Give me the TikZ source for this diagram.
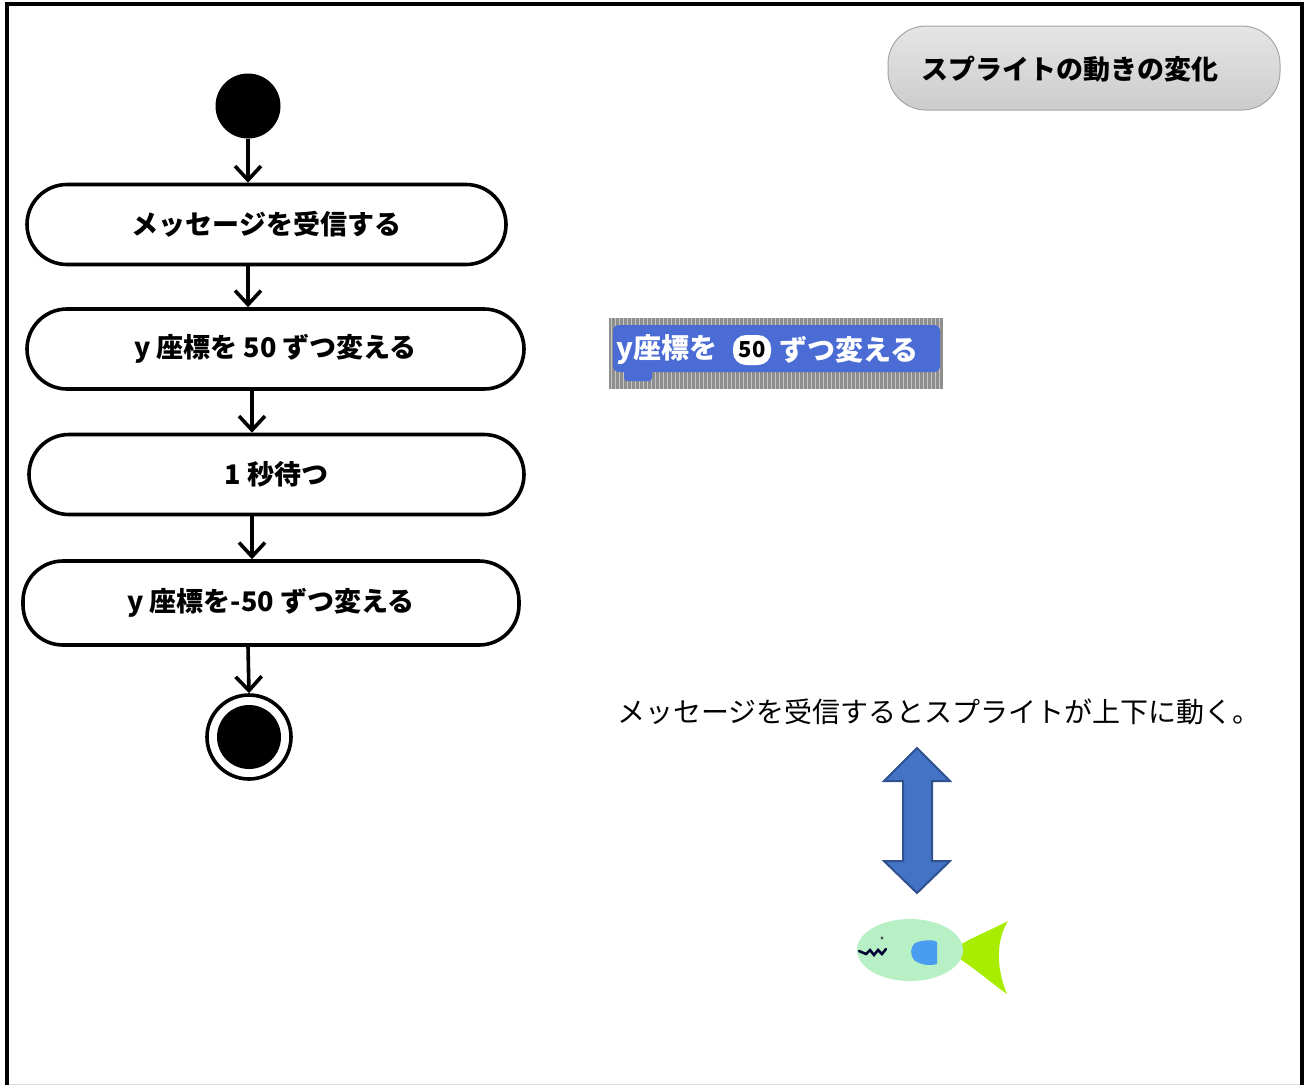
\documentclass[tikz,border=0pt]{standalone}
\usepackage{fontspec}
\newfontfamily\jp{Noto Sans CJK JP}
\usetikzlibrary{arrows.meta,shapes.geometric}
\definecolor{scratchblue}{HTML}{4A6CD4}
\definecolor{scratchbg}{HTML}{8E8E8E}
\definecolor{arrowblue}{HTML}{4472C4}
\definecolor{arrowedge}{HTML}{2F528F}
\definecolor{fishbody}{HTML}{B6F0C4}
\definecolor{fishtail}{HTML}{A8EC00}
\definecolor{fisheye}{HTML}{4A9CF0}
\tikzset{
  actbox/.style={draw=black, line width=3.6pt, fill=white, rounded corners=40pt,
    minimum height=80pt, inner sep=0pt, font=\jp\bfseries\fontsize{27}{32}\selectfont},
  flow/.style={line width=3.6pt, -{Straight Barb[length=14pt,width=26pt,line width=3.6pt]}},
  titlebox/.style={draw=gray!70, line width=1pt, rounded corners=38pt,
    top color=gray!20, bottom color=gray!40, minimum width=392pt, minimum height=84pt},
  titletext/.style={font=\jp\bfseries\fontsize{27}{32}\selectfont, inner sep=0pt},
  caption/.style={font=\jp\fontsize{28}{32}\selectfont, inner sep=0pt},
  blocktext/.style={font=\jp\bfseries\fontsize{28}{32}\selectfont, text=white, inner sep=0pt}
}
\begin{document}
\begin{tikzpicture}[x=1pt,y=-1pt]
\useasboundingbox (0,0) rectangle (1306,1085);
\fill[white] (0,0) rectangle (1306,1085);
% frame
\draw[gray!25, line width=1pt] (7,1084) -- (1302,1084);
\draw[black, line width=3.5pt] (7,1085) -- (7,4) -- (1302,4) -- (1302,1085);

% activity flow
\node[circle, fill=black, minimum size=65pt, inner sep=0pt] (start) at (248,106) {};
\node[actbox, minimum width=479pt] (a1) at (266.5,224.5) {メッセージを受信する};
\node[actbox, minimum width=497pt] (a2) at (275.5,349) {y 座標を 50 ずつ変える};
\node[actbox, minimum width=495pt] (a3) at (276.5,474.5) {1 秒待つ};
\node[actbox, minimum width=496pt, minimum height=84pt] (a4) at (271,603) {y 座標を-50 ずつ変える};
\node[circle, draw=black, line width=3.6pt, fill=white, minimum size=84pt, inner sep=0pt] (stop) at (249,737) {};
\node[circle, fill=black, minimum size=64pt, inner sep=0pt] (stopdot) at (249,737) {};

\draw[flow] (start.south) -- (start.south |- a1.north);
\draw[flow] (a1.south -| start) -- (a2.north -| start);
\coordinate (c2) at (252,0);
\draw[flow] (a2.south -| c2) -- (a3.north -| c2);
\draw[flow] (a3.south -| c2) -- (a4.north -| c2);
\draw[flow] (a4.south -| start) -- (stop.north);

% title
\node[titlebox] (title) at (1084,68) {};
\node[titletext] (titlelabel) at (1070,69) {スプライトの動きの変化};

% scratch block
\fill[scratchbg] (609,318) rectangle (943,389);
\foreach \i in {0,...,82} {
  \draw[gray!45, line width=0.8pt] (611+\i*4,318) -- (611+\i*4,389);
}
\fill[scratchblue, rounded corners=6pt] (613,325) rectangle (940,372);
\fill[scratchblue, rounded corners=3pt] (624,368) rectangle (652,381);
\node[blocktext, anchor=west] (blk1) at (616,350) {y座標を};
\node[draw=none, fill=white, rounded corners=13pt, minimum width=38pt, minimum height=30pt,
  inner sep=0pt, font=\jp\bfseries\fontsize{22}{26}\selectfont] (pill) at (752,350) {50};
\node[blocktext, anchor=west] (blk2) at (779,350) {ずつ変える};

% caption
\node[caption] (cap) at (939,712) {メッセージを受信するとスプライトが上下に動く。};

% double arrow
\draw[arrowedge, fill=arrowblue, line width=2pt, line join=miter]
  (917,748) -- (950,781) -- (932,781) -- (932,861) -- (950,861) -- (917,893)
  -- (884,861) -- (903,861) -- (903,781) -- (884,781) -- cycle;

% fish sprite
\fill[fishtail] (958,946) .. controls (975,936) and (995,928) .. (1008,921)
  .. controls (996,940) and (996,968) .. (1007,994)
  .. controls (990,982) and (972,966) .. (958,958) -- cycle;
\fill[fishbody] (910,950) ellipse [x radius=53pt, y radius=31pt];
\fill[fisheye] (915,943) .. controls (925,939) and (935,940) .. (937,942)
  -- (937,964) .. controls (930,966) and (920,965) .. (914,960)
  .. controls (910,955) and (910,947) .. (915,943) -- cycle;
\fill[black!70] (882,938) circle (1.6pt);
\draw[black!80!blue, line width=2.5pt, line cap=round]
  (859,951) -- (866,954) -- (870,950) -- (874,955) -- (878,950) -- (882,954) -- (886,949);
\end{tikzpicture}
\end{document}
